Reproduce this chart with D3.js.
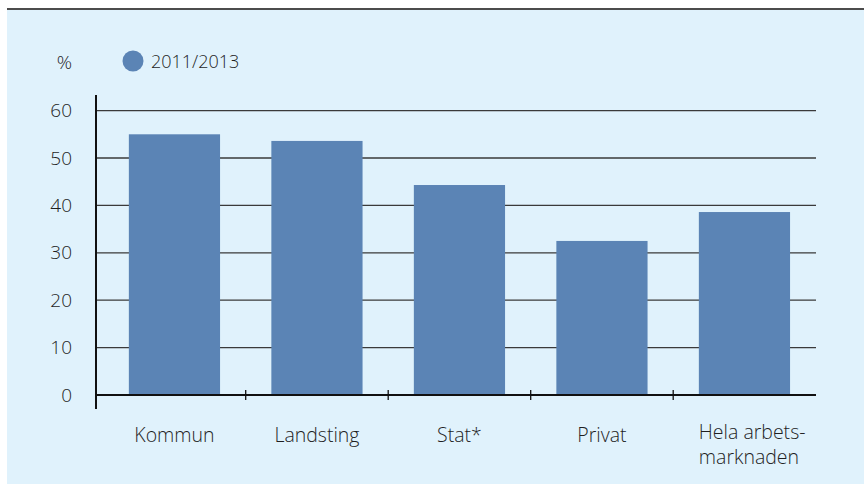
<!DOCTYPE html>
<html>
<head>
<meta charset="utf-8">
<script src="https://cdn.jsdelivr.net/npm/d3@7/dist/d3.min.js"></script>
<style>
  html, body { margin: 0; padding: 0; background: #ffffff; }
  svg { display: block; }
  text { font-family: "Open Sans", "Noto Sans", sans-serif; font-weight: 300; fill: #1f1f1f; }
</style>
</head>
<body>
<svg id="chart" width="864" height="484"></svg>
<script>
// Andel (%) per sektor, 2011/2013
const categories = [["Kommun"], ["Landsting"], ["Stat*"], ["Privat"], ["Hela arbets-", "marknaden"]];
const values = [55.0, 53.6, 44.3, 32.5, 38.6];
const seriesName = "2011/2013";
const yTicks = [0, 10, 20, 30, 40, 50, 60];
const yUnit = "%";

const W = 864, H = 484;
const barColor = "#5b84b5";
const bgColor = "#e0f2fc";

const svg = d3.select("#chart");

// panel background and top rule
svg.append("rect").attr("x", 7).attr("y", 10).attr("width", W - 7).attr("height", H - 10).attr("fill", bgColor);
svg.append("line").attr("x1", 7).attr("x2", W).attr("y1", 9).attr("y2", 9)
  .attr("stroke", "#111").attr("stroke-width", 1.5);

const plotLeft = 96, plotRight = 816;
const y = d3.scaleLinear().domain([0, 60]).range([395, 110.6]);
const x = d3.scaleBand()
  .domain(d3.range(categories.length))
  .range([103.2, 815.7])
  .paddingInner(0.36)
  .paddingOuter(0.18);

// horizontal gridlines
svg.append("g").selectAll("line").data(yTicks.filter(t => t > 0)).join("line")
  .attr("x1", plotLeft).attr("x2", plotRight)
  .attr("y1", d => y(d)).attr("y2", d => y(d))
  .attr("stroke", "#3a3a3a").attr("stroke-width", 1.3);

// bars
svg.append("g").selectAll("rect").data(values).join("rect")
  .attr("x", (d, i) => x(i))
  .attr("width", x.bandwidth())
  .attr("y", d => y(d))
  .attr("height", d => y(0) - y(d))
  .attr("fill", barColor);

// y axis line
svg.append("line").attr("x1", plotLeft).attr("x2", plotLeft).attr("y1", 95).attr("y2", 409)
  .attr("stroke", "#111").attr("stroke-width", 2);

// x axis baseline
svg.append("line").attr("x1", plotLeft).attr("x2", plotRight).attr("y1", y(0)).attr("y2", y(0))
  .attr("stroke", "#111").attr("stroke-width", 2);

// category separator ticks
const step = x.step();
const seps = d3.range(1, categories.length).map(i => x(i) - (step - x.bandwidth()) / 2);
svg.append("g").selectAll("line").data(seps).join("line")
  .attr("x1", d => d).attr("x2", d => d)
  .attr("y1", y(0) - 5).attr("y2", y(0) + 5)
  .attr("stroke", "#111").attr("stroke-width", 1.3);

// y tick labels
svg.append("g").selectAll("text").data(yTicks).join("text")
  .attr("x", 72).attr("y", d => y(d))
  .attr("dy", "0.35em")
  .attr("text-anchor", "end")
  .style("font-size", "19px")
  .text(d => d);

// unit label
svg.append("text").attr("x", 72).attr("y", 69).attr("text-anchor", "end")
  .style("font-size", "19px").text(yUnit);

// legend
svg.append("circle").attr("cx", 133).attr("cy", 61).attr("r", 10.5).attr("fill", barColor);
svg.append("text").attr("x", 151).attr("y", 68).style("font-size", "18px").text(seriesName);

// category labels; two-line labels are left-aligned as a block at the bar edge
const labels = svg.append("g").selectAll("text").data(categories).join("text")
  .attr("y", d => d.length > 1 ? 439 : 442)
  .style("font-size", "19.5px");
labels.each(function (lines, i) {
  const t = d3.select(this);
  const cx = x(i) + x.bandwidth() / 2;
  if (lines.length === 1) {
    t.attr("x", cx).attr("text-anchor", "middle").text(lines[0]);
  } else {
    lines.forEach((l, k) => t.append("tspan").attr("x", x(i)).attr("dy", k === 0 ? 0 : 25).text(l));
  }
});
</script>
</body>
</html>
